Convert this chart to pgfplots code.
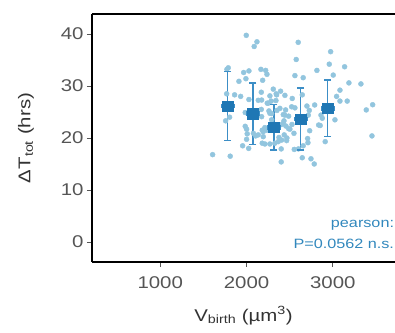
\documentclass[border=0pt]{standalone}
\usepackage{fontspec}
\setmainfont{Liberation Sans}[FakeStretch=1.2]
\usepackage{pgfplots}
\pgfplotsset{compat=1.18}
\definecolor{pt}{RGB}{146,197,222}
\definecolor{mn}{RGB}{31,119,180}
\definecolor{eb}{RGB}{60,142,198}
\definecolor{ann}{RGB}{50,136,189}
\definecolor{tl}{RGB}{85,85,85}
\pgfplotsset{
 vbar/.style={color=eb, line width=1.3pt, mark=-, mark size=3.5pt, mark options={solid, line width=1.3pt}},
 hbar/.style={color=eb, line width=1.3pt, mark=|, mark size=2.2pt, mark options={solid, line width=1.1pt}},
}
\begin{document}
\begin{tikzpicture}
\begin{axis}[
 scale only axis, width=303pt, height=248pt,
 xmin=209, xmax=3721, ymin=-3.85, ymax=43.85,
 axis lines*=left,
 axis line style={line width=1.3pt, black},
 xtick={1000,2000,3000}, ytick={0,10,20,30,40},
 tick align=outside, major tick length=5pt,
 tick style={color=tl, line width=0.8pt},
 tick label style={font=\fontsize{17}{20}\selectfont, color=tl},
 xticklabel style={yshift=-6pt},
 /pgf/number format/assume math mode=true,
 /pgf/number format/1000 sep={},
 xlabel={V\textsubscript{birth} (µm\textsuperscript{3})},
 ylabel={ΔT\textsubscript{tot} (hrs)},
 label style={font=\fontsize{17}{20}\selectfont, color=black!80},
 xlabel style={yshift=-11pt},
 ylabel style={at={(axis description cs:-0.218,0.5)}, anchor=center},
 clip=false,
]
\addplot[only marks, mark=*, mark size=2.5pt, color=pt, mark options={draw=none, fill=pt}] table {
x y
1997 39.75
2121 38.5
2089 37.6
2599 38.4
2975 36.6
2576 35.1
2959 34.2
3137 33.7
2816 33.0
1788 33.5
1773 33.2
1967 32.6
2028 32.9
2167 33.2
2222 33.0
2237 32.25
1993 31.4
1912 30.9
2187 31.1
2561 32.0
2657 31.6
3005 32.1
3187 30.6
3326 30.4
3083 29.2
1770 28.5
1862 28.3
1932 28.0
2171 28.8
2310 29.4
2395 29.0
2344 28.5
2445 28.2
2271 28.1
2028 27.4
2136 27.25
2175 27.3
2240 26.7
2286 27.1
2341 27.2
2530 27.6
3044 28.0
3167 27.1
2700 26.15
2790 26.35
2727 25.3
2561 25.8
2453 25.4
3462 26.4
3388 25.4
1985 24.9
2171 25.5
2260 25.2
2291 24.7
2353 25.3
2488 24.2
2426 24.5
2863 24.4
2878 23.8
3025 23.5
1758 23.3
1804 24.0
2732 21.4
2836 22.5
2854 22.4
1985 22.25
2001 21.7
2182 21.5
2213 22.0
2407 22.6
2457 22.3
2488 21.8
2434 23.3
2527 22.6
2008 20.8
2106 20.4
2136 20.6
2194 20.25
2376 20.1
2468 20.0
2708 19.9
3454 20.4
2437 20.6
2550 20.9
2001 19.75
2182 19.0
2213 18.85
2271 18.85
2329 19.0
2368 19.3
2407 19.6
2465 19.5
2712 19.1
2912 19.3
1955 18.5
2025 18.0
2402 17.9
2553 17.8
2602 17.9
1607 16.8
1811 16.5
2402 15.4
2646 16.2
2747 16.0
2785 15.0
2080 20.9
2194 21.2
2233 21.5
2426 22.8
2175 24.1
2252 26.7
2271 24.75
2291 23.5
2387 25.7
2445 24.4
2523 26.0
2349 28.3
2646 28.3
2716 24.4
3083 27.1
2657 18.5
2503 21.7
};
% vertical error bars (mean +/- sd)
\addplot[vbar] coordinates {(1781,19.55) (1781,32.75)};
\addplot[vbar] coordinates {(2074,18.8) (2074,30.6)};
\addplot[vbar] coordinates {(2317,17.7) (2317,26.4)};
\addplot[vbar] coordinates {(2627,17.7) (2627,29.6)};
\addplot[vbar] coordinates {(2940,20.25) (2940,31.15)};
% horizontal error bars
\addplot[hbar] coordinates {(1706,26.15) (1856,26.15)};
\addplot[hbar] coordinates {(1999,24.7) (2149,24.7)};
\addplot[hbar] coordinates {(2242,22.05) (2392,22.05)};
\addplot[hbar] coordinates {(2552,23.65) (2702,23.65)};
\addplot[hbar] coordinates {(2865,25.7) (3015,25.7)};
% bin means
\addplot[only marks, mark=square*, mark size=5.3pt, color=mn, mark options={fill=mn, draw=mn}] table {
x y
1781 26.15
2074 24.7
2317 22.05
2627 23.65
2940 25.7
};
\draw[line width=1.3pt, black] (rel axis cs:0,1) -- (rel axis cs:1,1);
\node[anchor=base east, color=ann, font=\fontsize{13.5}{16}\selectfont, inner sep=0pt] at (axis cs:3712,2.7) {pearson:};
\node[anchor=base east, color=ann, font=\fontsize{13.5}{16}\selectfont, inner sep=0pt] at (axis cs:3712,-1.35) {P=0.0562 n.s.};
\coordinate (bl) at (rel axis cs:0,0);
\coordinate (tr) at (rel axis cs:1,1);
\end{axis}
\pgfresetboundingbox
\path[use as bounding box] ([shift={(-92pt,-71pt)}]bl) rectangle ([shift={(0pt,14pt)}]tr);
\end{tikzpicture}
\end{document}
